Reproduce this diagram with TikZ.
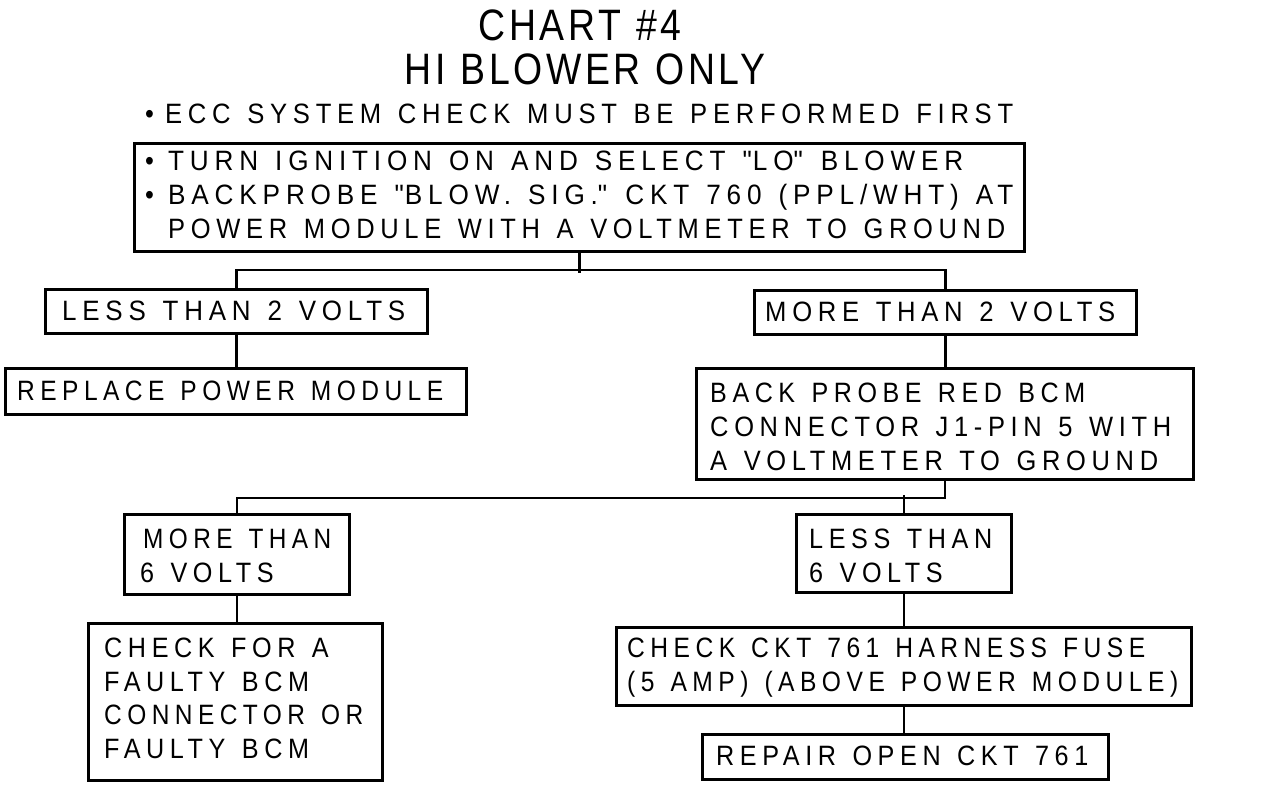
\documentclass[tikz,border=0pt]{standalone}
\usepackage{graphicx}
\usepackage{fontspec}
\setmainfont{Liberation Sans}[FakeStretch=0.9, LetterSpace=20, WordSpace=1.3]
\newfontfamily\titlefont{Liberation Sans}[FakeStretch=0.85, LetterSpace=8, WordSpace=1.1]
\newcommand\dq{\XeTeXglyph\XeTeXglyphindex "quotedbl" \relax}
\newcommand\fitw[2]{\resizebox{#1pt}{\height}{#2}}
\begin{document}
\begin{tikzpicture}[x=1pt,y=-1pt]
\useasboundingbox[fill=white] (0,0) rectangle (1264,806);
\tikzset{
  box/.style={draw, line width=3pt, inner sep=0pt, anchor=north west},
  conn/.style={line width=2.6pt},
  txt/.style={anchor=base west, inner sep=0pt, font=\fontsize{28}{34}\selectfont},
  ttl/.style={anchor=base, inner sep=0pt, font=\titlefont\fontsize{44}{50}\selectfont},
}
% title
\node[ttl] (t1) at (580,40) {CHART \#4};
\node[ttl] (t2) at (585,84) {HI BLOWER ONLY};
\node[txt] (sub) at (145,123) {\makebox[20pt][l]{•}\fitw{848}{ECC SYSTEM CHECK MUST BE PERFORMED FIRST}};
% boxes
\node[box, minimum width=890pt, minimum height=108pt] (top) at (133,142) {};
\node[box, minimum width=382pt, minimum height=44pt] (L2) at (44,288) {};
\node[box, minimum width=382pt, minimum height=44pt] (M2) at (753,289) {};
\node[box, minimum width=461pt, minimum height=46pt] (RPM) at (4,367) {};
\node[box, minimum width=497pt, minimum height=111pt] (BP) at (695,367) {};
\node[box, minimum width=225pt, minimum height=80pt] (M6) at (123,513) {};
\node[box, minimum width=215pt, minimum height=78pt] (L6) at (795,513) {};
\node[box, minimum width=294pt, minimum height=157pt] (CF) at (87,622) {};
\node[box, minimum width=575pt, minimum height=78pt] (CC) at (615,626) {};
\node[box, minimum width=406pt, minimum height=45pt] (RO) at (701,733) {};
% texts
\node[txt] (top1) at (145,170) {\makebox[23pt][l]{•}\fitw{795}{TURN IGNITION ON AND SELECT \dq LO\dq\ BLOWER}};
\node[txt] (top2) at (145,204) {\makebox[23pt][l]{•}\fitw{845}{BACKPROBE \dq BLOW. SIG.\dq\ CKT 760 (PPL/WHT) AT}};
\node[txt] (top3) at (168,238) {\fitw{837}{POWER MODULE WITH A VOLTMETER TO GROUND}};
\node[txt] (l2t) at (62,320) {\fitw{343}{LESS THAN 2 VOLTS}};
\node[txt] (m2t) at (765,321) {\fitw{350}{MORE THAN 2 VOLTS}};
\node[txt] (rpmt) at (17,400) {\fitw{426}{REPLACE POWER MODULE}};
\node[txt] (bp1) at (710,402) {\fitw{375}{BACK PROBE RED BCM}};
\node[txt] (bp2) at (710,436) {\fitw{461}{CONNECTOR J1-PIN 5 WITH}};
\node[txt] (bp3) at (710,470) {\fitw{448}{A VOLTMETER TO GROUND}};
\node[txt] (m6a) at (143,548) {\fitw{188}{MORE THAN}};
\node[txt] (m6b) at (140,582) {6 VOLTS};
\node[txt] (l6a) at (809,548) {LESS THAN};
\node[txt] (l6b) at (809,582) {6 VOLTS};
\node[txt] (cf1) at (104,657) {CHECK FOR A};
\node[txt] (cf2) at (104,691) {FAULTY BCM};
\node[txt] (cf3) at (104,724) {\fitw{259}{CONNECTOR OR}};
\node[txt] (cf4) at (104,758) {FAULTY BCM};
\node[txt] (cc1) at (627,657) {\fitw{518}{CHECK CKT 761 HARNESS FUSE}};
\node[txt] (cc2) at (627,691) {\fitw{551}{(5 AMP) (ABOVE POWER MODULE)}};
\node[txt] (rot) at (716,765) {REPAIR OPEN CKT 761};
% connectors
\draw[conn] (top.south) -- ++(0,20);
\draw[conn] (L2.north) -- ++(0,-18) -| (M2.north);
\draw[conn] (L2.south) -- (L2.south |- RPM.north);
\draw[conn] (M2.south) -- (M2.south |- BP.north);
\draw[conn] (BP.south) -- ++(0,17) -| (M6.north);
\draw[conn] (L6.north) -- ++(0,-18);
\draw[conn] (M6.south) -- (M6.south |- CF.north);
\draw[conn] (L6.south) -- (L6.south |- CC.north);
\draw[conn] (CC.south) -- (CC.south |- RO.north);
\end{tikzpicture}
\end{document}
